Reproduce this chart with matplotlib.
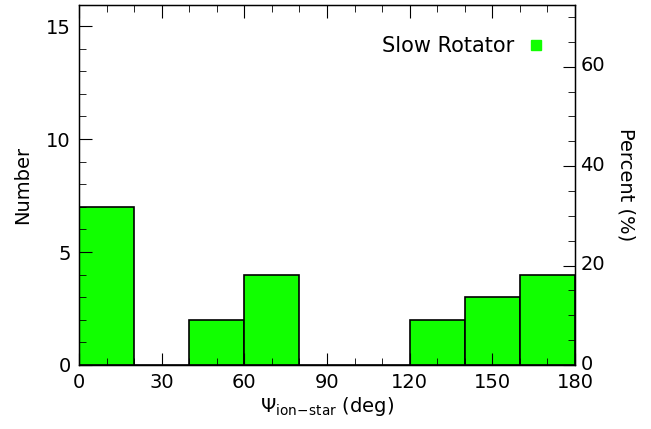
import matplotlib
matplotlib.use('Agg')
import matplotlib.pyplot as plt
import matplotlib.transforms as mtransforms
from matplotlib.lines import Line2D
from matplotlib.ticker import MultipleLocator

# histogram data
bin_left = [0, 20, 40, 60, 80, 100, 120, 140, 160]
counts = [7, 0, 2, 4, 0, 0, 2, 3, 4]
bin_width = 20
label = 'Slow Rotator'
total = sum(counts)

green = '#11ff00'
plt.rcParams['font.family'] = ['DejaVu Sans']
plt.rcParams['font.size'] = 14

fig = plt.figure(figsize=(6.51, 4.29), dpi=100)
ax = fig.add_axes([79 / 651, 64 / 429, 496 / 651, 360 / 429])

ax.bar(bin_left, counts, width=bin_width, align='edge', color=green,
       edgecolor='black', linewidth=1.2)

ax.set_xlim(0, 180)
ax.set_ylim(0, 15.93)
ax.xaxis.set_major_locator(MultipleLocator(30))
ax.xaxis.set_minor_locator(MultipleLocator(10))
ax.yaxis.set_major_locator(MultipleLocator(5))
ax.yaxis.set_minor_locator(MultipleLocator(1))
ax.tick_params(which='both', direction='in', top=True, right=False,
               labelsize=14, pad=6)
ax.tick_params(which='major', length=9)
ax.tick_params(which='minor', length=5)
for s in ax.spines.values():
    s.set_linewidth(1.0)

ax.set_ylabel('Number', fontsize=14, labelpad=10)
ax.set_xlabel(r'$\Psi_{\rm ion\!-\!star}$ (deg)', fontsize=14, labelpad=2)

# right axis in percent
ax2 = ax.twinx()
ax2.set_ylim(0, 15.93 / total * 100)
ax2.yaxis.set_major_locator(MultipleLocator(20))
ax2.yaxis.set_minor_locator(MultipleLocator(5))
ax2.tick_params(which='both', direction='in', labelsize=14, pad=4)
ax2.tick_params(which='major', length=9)
ax2.tick_params(which='minor', length=5)
ax2.set_ylabel('Percent (%)', rotation=-90, fontsize=14, labelpad=22)

# labels on the right sit a bit above their ticks
shift = mtransforms.ScaledTranslation(0, 3 / 100, fig.dpi_scale_trans)
for t in ax2.get_yticklabels():
    t.set_transform(t.get_transform() + shift)

h = Line2D([], [], marker='s', color=green, linestyle='none', markersize=7)
ax.legend([h], [label], loc='upper right', frameon=False, markerfirst=False,
          fontsize=15, bbox_to_anchor=(0.981, 0.965), handlelength=1.0,
          handletextpad=0.57)

fig.savefig('out.png', dpi=100)
